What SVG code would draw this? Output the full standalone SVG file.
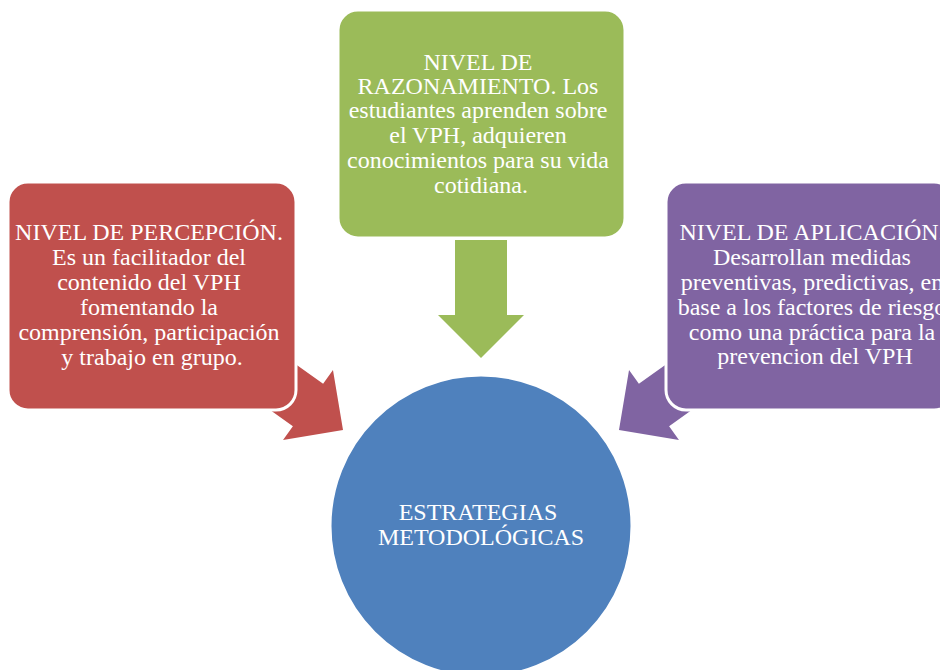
<svg xmlns="http://www.w3.org/2000/svg" width="940" height="670" viewBox="0 0 940 670">
  <defs>
    <!-- block arrow pointing along +x: shaft behind, head from x=0 to tip at x=43 -->
    <polygon id="blockArrow" points="-75,-26 0,-26 0,-43 43,0 0,43 0,26 -75,26"/>
    <style>
      .box { stroke: #ffffff; stroke-width: 3; }
      .lbl { font-family: "Liberation Serif", "Times New Roman", serif; font-size: 24px; fill: #ffffff; text-anchor: middle; }
      .red { fill: #C0504D; }
      .green { fill: #9BBB59; }
      .purple { fill: #8064A2; }
      .blue { fill: #4F81BD; }
    </style>
  </defs>

  <rect width="940" height="670" fill="#ffffff"/>

  <!-- connectors: block arrows pointing into the centre circle -->
  <g id="connectors">
    <use href="#blockArrow" class="red" transform="translate(308,405) rotate(35.5)"/>
    <use href="#blockArrow" class="green" transform="translate(481,315) rotate(90)"/>
    <use href="#blockArrow" class="purple" transform="translate(654,405) rotate(144.5)"/>
  </g>

  <g id="percepcion">
    <rect class="box red" x="8" y="182" width="288" height="228" rx="20"/>
    <text class="lbl">
      <tspan x="152" y="240">NIVEL DE PERCEPCIÓN.</tspan>
      <tspan x="152" y="265">Es un facilitador del</tspan>
      <tspan x="152" y="290">contenido del VPH</tspan>
      <tspan x="152" y="315">fomentando la</tspan>
      <tspan x="152" y="340">comprensión, participación</tspan>
      <tspan x="152" y="365">y trabajo en grupo.</tspan>
    </text>
  </g>

  <g id="razonamiento">
    <rect class="box green" x="338" y="10" width="287" height="228" rx="20"/>
    <text class="lbl">
      <tspan x="481" y="70">NIVEL DE</tspan>
      <tspan x="481" y="94">RAZONAMIENTO. Los</tspan>
      <tspan x="481" y="118">estudiantes aprenden sobre</tspan>
      <tspan x="481" y="143">el VPH, adquieren</tspan>
      <tspan x="481" y="168">conocimientos para su vida</tspan>
      <tspan x="481" y="193">cotidiana.</tspan>
    </text>
  </g>

  <g id="aplicacion">
    <rect class="box purple" x="666" y="182" width="288" height="228" rx="20"/>
    <text class="lbl">
      <tspan x="815" y="240">NIVEL DE APLICACIÓN.</tspan>
      <tspan x="815" y="265">Desarrollan medidas</tspan>
      <tspan x="815" y="290">preventivas, predictivas, en</tspan>
      <tspan x="815" y="315">base a los factores de riesgo</tspan>
      <tspan x="815" y="340">como una práctica para la</tspan>
      <tspan x="815" y="364">prevencion del VPH</tspan>
    </text>
  </g>

  <g id="estrategias">
    <circle class="box blue" cx="481" cy="526" r="151"/>
    <text class="lbl">
      <tspan x="481" y="520">ESTRATEGIAS</tspan>
      <tspan x="481" y="545">METODOLÓGICAS</tspan>
    </text>
  </g>
</svg>
